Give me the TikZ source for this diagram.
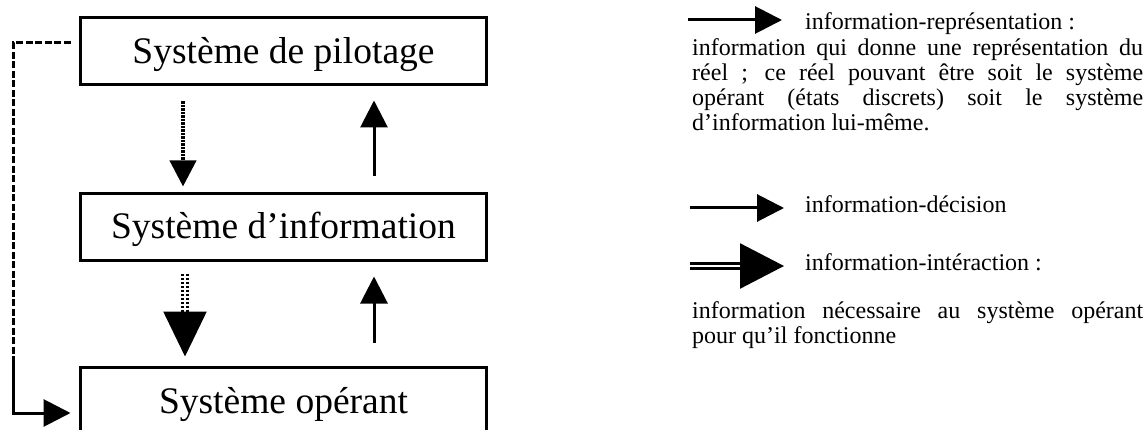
\documentclass[tikz,border=0pt]{standalone}
\usepackage{fontspec}
\setmainfont{Liberation Serif}
\usetikzlibrary{arrows.meta}

\tikzset{
  sysbox/.style={draw, line width=3pt, minimum width=406pt, minimum height=67pt,
    inner sep=0pt, text height=26pt, text depth=2pt, font=\fontsize{37.5}{40}\selectfont},
  legtext/.style={anchor=base west, inner sep=0pt, font=\fontsize{24}{25}\selectfont},
  legpar/.style={legtext, text width=451pt, align=justify},
  repline/.style={line width=3pt, -{Triangle[length=27pt, width=27pt]}},
  dotline/.style={line width=4pt, dash pattern=on 2.5pt off 1pt, -{Triangle[length=26pt, width=26pt]}},
  dblline/.style={double, double distance=2.5pt, line width=2.5pt},
  fbline/.style={line width=3pt, dash pattern=on 7pt off 2.5pt}
}

\begin{document}
\begin{tikzpicture}[x=1pt, y=-1pt]
      \useasboundingbox (0,0) rectangle (1147,430);

      \node[sysbox] (pilot) at (283.5, 51.5){Système de pilotage};
      \node[sysbox] (info) at (283.5, 227){Système d’information};
      \node[sysbox] (oper) at (283.5, 401){Système opérant};

        \draw[dotline, shorten <=15pt, shorten >=5.5pt]
          ([xshift=-100.5pt]pilot.south) to ([xshift=-100.5pt]info.north);
        \draw[repline, shorten <=15.5pt, shorten >=14pt]
          ([xshift=90.5pt]info.north) to ([xshift=90.5pt]pilot.south);

        \draw[dblline, dash pattern=on 2.5pt off 1.5pt, -{Triangle[length=45pt, width=43pt]}, shorten <=11.5pt, shorten >=9.5pt]
          ([xshift=-98.5pt]info.south) to ([xshift=-98.5pt]oper.north);
        \draw[repline, shorten <=23.5pt, shorten >=14.5pt]
          ([xshift=90.5pt]oper.north) to ([xshift=90.5pt]info.south);

      % retour du pilotage vers le systeme operant
      \coordinate (fbtop) at ([xshift=-8.5pt, yshift=8.5pt]pilot.west);
      \coordinate (fbturn) at (13, 360);
      \draw[fbline] (fbtop) -| (fbturn);
      \draw[line width=3pt, -{Triangle[length=27pt, width=27pt]}]
        (fbturn) |- ([xshift=-8.5pt, yshift=-12pt]oper.west);

      % legende
      \node[legtext] (reptitle) at (805, 30){information-représentation :};
      \node[legpar] (reppar) at (692, 56){information qui donne une représentation du\linebreak
        réel ; ce réel pouvant être soit le système\linebreak
        opérant (états discrets) soit le système\linebreak
        d’information lui-même.};
      \coordinate (rep0) at (688, 20);
      \draw[repline, shorten >=23pt] (rep0) to (rep0 -| reptitle.west);

      \node[legtext] (dectitle) at (805, 213){information-décision};
      \coordinate (dec0) at (690, 208);
      \draw[repline, shorten >=21pt] (dec0) to (dec0 -| dectitle.west);

      \node[legtext] (inttitle) at (805, 270){information-intéraction :};
      \coordinate (int0) at (690, 266);
      \draw[dblline, -{Triangle[length=44pt, width=45pt]}, shorten >=21pt] (int0) to (int0 -| inttitle.west);
      \node[legpar] (intpar) at (692, 318){information nécessaire au système opérant\linebreak
        pour qu’il fonctionne};

    \end{tikzpicture}
\end{document}
